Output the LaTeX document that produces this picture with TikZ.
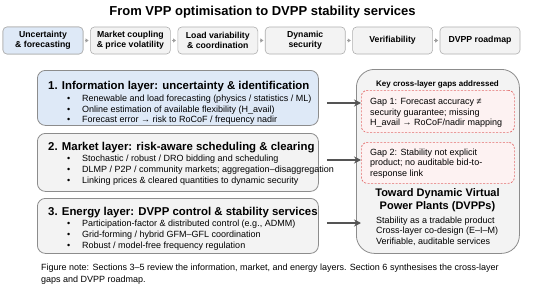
\documentclass[tikz,border=0pt]{standalone}
\usepackage{fontspec}
\setmainfont{Liberation Sans}
\usetikzlibrary{arrows.meta, positioning}
\definecolor{infoblue}{RGB}{222,233,247}
\definecolor{boxgray}{RGB}{243,243,243}
\definecolor{edgegray}{RGB}{140,140,140}
\definecolor{stageedge}{RGB}{175,175,175}
\definecolor{gapred}{RGB}{228,108,108}
\definecolor{gapfill}{RGB}{253,242,242}
\definecolor{arrowgray}{RGB}{85,85,85}
\definecolor{stepgray}{RGB}{160,160,160}

\begin{document}
\begin{tikzpicture}[x=1pt, y=-1pt,
  stagebox/.style={draw=stageedge, line width=0.6pt, rounded corners=4pt, fill=boxgray,
    minimum width=80, minimum height=27, align=center, inner sep=0,
    font=\bfseries\fontsize{8.7}{10.5}\selectfont},
  layerbox/.style={draw=edgegray, line width=0.8pt, rounded corners=8pt, fill=boxgray,
    minimum width=281, anchor=north west, inner sep=0},
  layertitle/.style={anchor=base west, inner sep=0, font=\bfseries\fontsize{11.4}{13}\selectfont},
  bul/.style={anchor=base west, inner sep=0, font=\fontsize{9}{11}\selectfont},
  gapbox/.style={draw=gapred, dash pattern=on 2pt off 1.5pt, line width=0.7pt,
    rounded corners=6pt, fill=gapfill, minimum width=153, anchor=north west, inner sep=0},
  gaptext/.style={anchor=north west, inner sep=0, align=left, font=\fontsize{9}{10.5}\selectfont},
  flowarr/.style={-{Stealth[length=7pt,width=7pt]}, draw=arrowgray, line width=1.3pt},
  steparr/.style={-{Triangle[length=3pt,width=4pt]}, draw=stepgray, line width=1.2pt,
    shorten <=1.5pt, shorten >=1.5pt}]
  \fill[white] (0,0) rectangle (550,289);
  \useasboundingbox (0,0) rectangle (550,289);

  % title and stage strip
  \node[font=\bfseries\fontsize{13}{15}\selectfont, inner sep=0] (title) at (262.5,12) {From VPP optimisation to DVPP stability services};
  \foreach \txt [count=\i] in {Uncertainty\\\& forecasting, Market coupling\\\& price volatility,
      Load variability\\\& coordination, Dynamic\\security, Verifiability, DVPP roadmap}
    \node[stagebox] (t\i) at ({43+(\i-1)*87.4},40.5) {\txt};
  \node[stagebox, fill=infoblue] at (t1) {Uncertainty\\\& forecasting};
  \foreach \i [evaluate=\i as \j using int(\i+1)] in {1,...,5}
    \draw[steparr] (t\i.east) -- (t\j.west);

  % layers
  \node[layerbox, fill=infoblue, minimum height=55] (l1) at (37,70) {};
  \node[layertitle] (l1title) at (48,89) {1. Information layer: uncertainty \& identification};
  \node[bul] (l1a) at (67,101) {\makebox[15pt][l]{\textbullet}Renewable and load forecasting (physics / statistics / ML)};
  \node[bul] (l1b) at (67,112) {\makebox[15pt][l]{\textbullet}Online estimation of available flexibility (H\_avail)};
  \node[bul] (l1c) at (67,122.5) {\makebox[15pt][l]{\textbullet}Forecast error → risk to RoCoF / frequency nadir};

  \node[layerbox, minimum height=58] (l2) at (37,133) {};
  \node[layertitle] (l2title) at (48,150) {2. Market layer: risk-aware scheduling \& clearing};
  \node[bul] (l2a) at (67,161) {\makebox[15pt][l]{\textbullet}Stochastic / robust / DRO bidding and scheduling};
  \node[bul] (l2b) at (67,172) {\makebox[15pt][l]{\textbullet}DLMP / P2P / community markets; aggregation–disaggregation};
  \node[bul] (l2c) at (67,183) {\makebox[15pt][l]{\textbullet}Linking prices \& cleared quantities to dynamic security};

  \node[layerbox, minimum height=55] (l3) at (37,198) {};
  \node[layertitle] (l3title) at (48,215.5) {3. Energy layer: DVPP control \& stability services};
  \node[bul] (l3a) at (67,226.5) {\makebox[15pt][l]{\textbullet}Participation-factor \& distributed control (e.g., ADMM)};
  \node[bul] (l3b) at (67,237.5) {\makebox[15pt][l]{\textbullet}Grid-forming / hybrid GFM–GFL coordination};
  \node[bul] (l3c) at (67,248) {\makebox[15pt][l]{\textbullet}Robust / model-free frequency regulation};

  % DVPP panel with gaps
  \node[layerbox, rounded corners=18pt, minimum width=163, minimum height=184] (dvpp) at (356,69) {};
  \node[anchor=base, inner sep=0, font=\bfseries\fontsize{8}{10}\selectfont] (gaphead) at (437.5,86) {Key cross-layer gaps addressed};
  \node[gapbox, minimum height=42] (g1) at (361,90) {};
  \node[gaptext] (g1txt) at (370,98.5) {Gap 1: Forecast accuracy ≠\\security guarantee; missing\\H\_avail → RoCoF/nadir mapping};
  \node[gapbox, minimum height=41] (g2) at (361,142) {};
  \node[gaptext] (g2txt) at (370,148.5) {Gap 2: Stability not explicit\\product; no auditable bid-to-\\response link};
  \node[anchor=north, inner sep=0, align=center, font=\bfseries\fontsize{11}{13}\selectfont] (dvpphead) at (437.5,188) {Toward Dynamic Virtual\\Power Plants (DVPPs)};
  \node[gaptext, font=\fontsize{9}{10.6}\selectfont] (dvppitems) at (376,216.5) {Stability as a tradable product\\Cross-layer co-design (E–I–M)\\Verifiable, auditable services};

  \draw[flowarr] ([xshift=8]l1.east |- 0,103) -- (g1.west |- 0,103);
  \draw[flowarr] ([xshift=8]l2.east |- 0,160) -- (g2.west |- 0,160);
  \draw[flowarr] ([xshift=8]l3.east |- 0,223) -- (g2.west |- 0,223);

  % note
  \node[bul] (note1) at (41,270) {Figure note: Sections 3–5 review the information, market, and energy layers. Section 6 synthesises the cross-layer};
  \node[bul] (note2) at (41,282) {gaps and DVPP roadmap.};
\end{tikzpicture}
\end{document}
